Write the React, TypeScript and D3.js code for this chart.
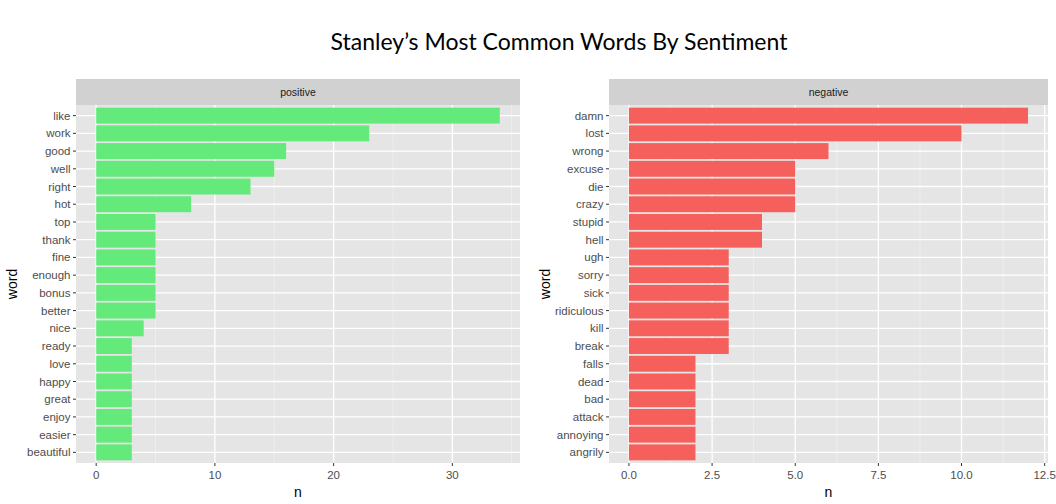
import React from 'react';
import * as d3 from 'd3';

const posWords = ['like', 'work', 'good', 'well', 'right', 'hot', 'top', 'thank', 'fine', 'enough', 'bonus', 'better', 'nice', 'ready', 'love', 'happy', 'great', 'enjoy', 'easier', 'beautiful'];
const posCounts = [34, 23, 16, 15, 13, 8, 5, 5, 5, 5, 5, 5, 4, 3, 3, 3, 3, 3, 3, 3];
const posTicks = [0, 10, 20, 30];

const negWords = ['damn', 'lost', 'wrong', 'excuse', 'die', 'crazy', 'stupid', 'hell', 'ugh', 'sorry', 'sick', 'ridiculous', 'kill', 'break', 'falls', 'dead', 'bad', 'attack', 'annoying', 'angrily'];
const negCounts = [12, 10, 6, 5, 5, 5, 4, 4, 3, 3, 3, 3, 3, 3, 2, 2, 2, 2, 2, 2];
const negTicks = [0, 2.5, 5, 7.5, 10, 12.5];

const W = 1056;
const H = 504;
const stripTop = 79;
const panelTop = 105;
const panelBottom = 463;
const font = '"Liberation Sans", Arial, sans-serif';

interface FacetProps {
  label: string;
  words: string[];
  counts: number[];
  ticks: number[];
  fmt: (v: number) => string;
  left: number;
  right: number;
  color: string;
}

const Facet: React.FC<FacetProps> = ({ label, words, counts, ticks, fmt, left, right, color }) => {
  const max = d3.max(counts) as number;
  const pad = max * 0.05;
  const x = d3.scaleLinear().domain([-pad, max + pad]).range([left, right]);
  // ggplot discrete axis: 0.6 units of expansion on each end
  const y = d3.scalePoint().domain(words).range([panelTop, panelBottom]).padding(0.6);
  const bh = y.step() * 0.9;
  const step = ticks[1] - ticks[0];
  const minor: number[] = [];
  for (let i = 0; i <= ticks.length; i++) {
    const v = ticks[0] + step * (i - 0.5);
    if (x(v) > left && x(v) < right) minor.push(v);
  }
  return (
    <g>
      <rect x={left} y={stripTop} width={right - left} height={panelTop - stripTop} fill="#d1d1d1" />
      <text x={(left + right) / 2} y={(stripTop + panelTop) / 2} dy="0.35em" textAnchor="middle" fontSize={10.5} fill="#1a1a1a" fontFamily={font}>{label}</text>
      <rect x={left} y={panelTop} width={right - left} height={panelBottom - panelTop} fill="#e5e5e5" />
      {minor.map(v => (
        <line key={'m' + v} x1={x(v)} x2={x(v)} y1={panelTop} y2={panelBottom} stroke="#f2f2f2" strokeWidth={0.7} />
      ))}
      {ticks.map(v => (
        <line key={'t' + v} x1={x(v)} x2={x(v)} y1={panelTop} y2={panelBottom} stroke="#ffffff" strokeWidth={1.3} />
      ))}
      {words.map(w => {
        const cy = y(w) as number;
        return <line key={'h' + w} x1={left} x2={right} y1={cy} y2={cy} stroke="#ffffff" strokeWidth={1.3} />;
      })}
      {words.map((w, i) => (
        <rect key={'b' + w} x={x(0)} y={(y(w) as number) - bh / 2} width={x(counts[i]) - x(0)} height={bh} fill={color} />
      ))}
      {words.map(w => {
        const cy = y(w) as number;
        return (
          <g key={'l' + w}>
            <line x1={left - 3} x2={left} y1={cy} y2={cy} stroke="#333333" strokeWidth={1} />
            <text x={left - 5.5} y={cy} dy="0.35em" textAnchor="end" fontSize={11.5} fill="#4d4d4d" fontFamily={font}>{w}</text>
          </g>
        );
      })}
      {ticks.map(v => (
        <g key={'xt' + v}>
          <line x1={x(v)} x2={x(v)} y1={panelBottom} y2={panelBottom + 3} stroke="#333333" strokeWidth={1} />
          <text x={x(v)} y={panelBottom + 12} dy="0.35em" textAnchor="middle" fontSize={11.5} fill="#4d4d4d" fontFamily={font}>{fmt(v)}</text>
        </g>
      ))}
      <text x={(left + right) / 2} y={492} dy="0.35em" textAnchor="middle" fontSize={14} fill="#000" fontFamily={font}>n</text>
      <text transform={`translate(${left - 64},${(panelTop + panelBottom) / 2}) rotate(-90)`} textAnchor="middle" dy="0.35em" fontSize={14} fill="#000" fontFamily={font}>word</text>
    </g>
  );
};

const App: React.FC = () => {
  return (
    <svg width={W} height={H} style={{ position: 'absolute', left: 0, top: 0, background: '#fff' }}>
      <rect width={W} height={H} fill="#fff" />
      <text x={559} y={42} dy="0.35em" textAnchor="middle" fontSize={23} fill="#000" fontFamily='Lato, "Open Sans", sans-serif'>Stanley’s Most Common Words By Sentiment</text>
      <Facet label="positive" words={posWords} counts={posCounts} ticks={posTicks} fmt={d3.format('d')} left={76} right={520} color="#64ea7a" />
      <Facet label="negative" words={negWords} counts={negCounts} ticks={negTicks} fmt={d3.format('.1f')} left={609} right={1048} color="#f5605c" />
    </svg>
  );
};

export default App;
